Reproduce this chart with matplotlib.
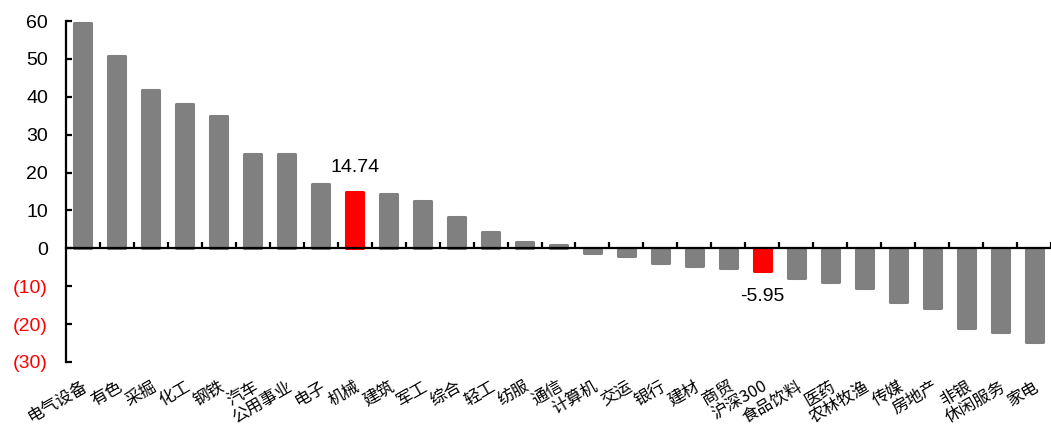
import numpy as np
import matplotlib
matplotlib.use("Agg")
from matplotlib import pyplot as plt
from matplotlib import transforms

plt.rcParams['font.family'] = ['Liberation Sans', 'Noto Sans CJK SC', 'DejaVu Sans']

# 行业涨跌幅(%)
sectors = ['电气设备', '有色', '采掘', '化工', '钢铁', '汽车', '公用事业', '电子', '机械',
           '建筑', '军工', '综合', '轻工', '纺服', '通信', '计算机', '交运', '银行', '建材',
           '商贸', '沪深300', '食品饮料', '医药', '农林牧渔', '传媒', '房地产', '非银',
           '休闲服务', '家电']
returns = [59.6, 50.7, 41.8, 38.1, 34.9, 24.9, 24.9, 16.9, 14.74,
           14.3, 12.6, 8.4, 4.2, 1.6, 1.0, -1.1, -1.9, -4.0, -4.6,
           -5.1, -5.95, -7.8, -8.9, -10.5, -14.2, -15.8, -21.1,
           -22.2, -24.8]
highlight = ['机械', '沪深300']
yticks = [-30, -20, -10, 0, 10, 20, 30, 40, 50, 60]

gray = '#808080'
red = '#FF0000'

fig = plt.figure(figsize=(10.51, 4.30), dpi=100)
ax = fig.add_axes([66 / 1051, 68 / 430, 1 - 66 / 1051, (362 - 21) / 430])

x = np.arange(len(sectors))
colors = [red if s in highlight else gray for s in sectors]
ax.bar(x, returns, width=0.5, color=colors, edgecolor=colors, linewidth=2.2,
       joinstyle='round', zorder=2)

# 标注
for s in highlight:
    i = sectors.index(s)
    v = returns[i]
    if v >= 0:
        ax.annotate('%.2f' % v, (i, v), xytext=(0, 12), textcoords='offset points',
                    ha='center', va='bottom', fontsize=14)
    else:
        ax.annotate('%.2f' % v, (i, v), xytext=(0, -12), textcoords='offset points',
                    ha='center', va='top', fontsize=14)

# 坐标轴
width_units = (1051 - 66) / 34.05
ax.set_xlim(-0.5, -0.5 + width_units)
ax.set_ylim(-30, 60)
ax.spines['top'].set_visible(False)
ax.spines['right'].set_visible(False)
ax.spines['bottom'].set_position(('data', 0))
ax.spines['bottom'].set_linewidth(1.6)
ax.spines['left'].set_linewidth(1.6)
ax.spines['bottom'].set_zorder(3)

ax.set_xticks(np.arange(len(sectors)) + 0.5)
ax.set_xticklabels([])
ax.tick_params(axis='x', direction='in', length=4, width=1.6)

ax.set_yticks(yticks)
ax.set_yticklabels([('(%d)' % -t) if t < 0 else str(t) for t in yticks], fontsize=14)
ax.tick_params(axis='y', direction='in', length=4, width=1.6, pad=13)
for t, lab in zip(yticks, ax.get_yticklabels()):
    if t < 0:
        lab.set_color(red)

# 行业标签
trans = transforms.offset_copy(ax.get_xaxis_transform(), fig=fig, y=-16, units='dots')
for i, s in enumerate(sectors):
    ax.text(i, 0, s, transform=trans, rotation=30, rotation_mode='anchor',
            ha='right', va='top', fontsize=12,
            family=['Noto Sans CJK SC', 'DejaVu Sans'])

fig.savefig('out.png', dpi=100)
